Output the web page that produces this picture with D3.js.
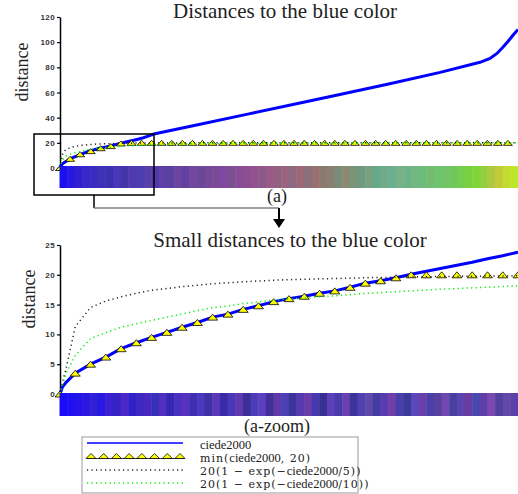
<!DOCTYPE html>
<html>
<head>
<meta charset="utf-8">
<script src="https://cdn.jsdelivr.net/npm/d3@7"></script>
<style>
body { margin: 0; background: #fff; }
</style>
</head>
<body>
<div id="chart"></div>
<script>
//// Data
// rank = position of a colour once all colours are sorted by distance (0..1000)

// Full range, panel (a)
const top_rank  = [0, 1, 2.5, 6, 12, 24, 36, 48, 60, 72, 84, 96, 108, 120, 132, 144, 156, 168, 180,
                   205, 306, 415, 524, 611, 720, 830, 917, 939, 954, 967, 978, 989, 1000]
const top_ciede = [0, 1.2, 2.0, 3.5, 5.0, 7.6, 9.5, 11.2, 12.9, 14.2, 15.5, 16.4, 17.3, 18.6, 19.5, 20.6, 21.6, 22.7, 23.8,
                   27, 34.8, 43.2, 51.6, 58.4, 67, 76, 84, 87, 91, 96, 100.5, 105.5, 110]
const top_exp5  = [0, 2, 4.5, 11.3, 14.5, 16.3, 17.4, 18.0, 18.5, 18.83, 19.1, 19.25, 19.37, 19.51, 19.59, 19.68, 19.73, 19.79, 19.83,
                   19.91, 19.98, 20, 20, 20, 20, 20, 20, 20, 20, 20, 20, 20, 20]
const top_exp10 = [0, 1.5, 3.5, 6.5, 9.3, 11.2, 12.35, 13.4, 14.5, 15.17, 15.76, 16.12, 16.45, 16.89, 17.15, 17.45, 17.7, 17.93, 18.15,
                   18.66, 19.44, 19.74, 19.89, 19.94, 19.98, 20, 20, 20, 20, 20, 20, 20, 20]
const top_min_rank = [0, 22, 44, 67, 89, 111, 133, 156, 178, 200, 222, 244, 267, 289, 311, 333, 356, 378, 400, 422, 444, 467,
                      489, 511, 533, 556, 578, 600, 622, 644, 667, 689, 711, 733, 756, 778, 800, 822, 844, 867, 889, 911, 933, 956, 978]
const top_min = [0, 7.3, 10.9, 13.4, 15.7, 17.4, 19.5, 20, 20, 20, 20, 20, 20, 20, 20, 20, 20, 20, 20, 20, 20, 20,
                 20, 20, 20, 20, 20, 20, 20, 20, 20, 20, 20, 20, 20, 20, 20, 20, 20, 20, 20, 20, 20, 20, 20]

// Zoomed range, panel (a-zoom)
const zoom_rank  = [0, 1, 2.5, 6, 12, 18, 24, 30, 36, 42, 48, 54, 60, 66, 72, 78, 84, 90, 96, 102, 108,
                    114, 120, 126, 132, 138, 144, 150, 156, 162, 168, 174, 180]
const zoom_ciede = [0, 1.2, 2.0, 3.5, 5.0, 6.2, 7.6, 8.6, 9.5, 10.35, 11.2, 12.0, 12.9, 13.4, 14.2, 14.8, 15.5, 16.0, 16.4, 16.9, 17.3,
                    17.9, 18.6, 19.0, 19.5, 20.1, 20.6, 21.1, 21.6, 22.1, 22.7, 23.2, 23.8]
const zoom_exp5  = [0, 2, 4.5, 11.3, 14.5, 15.6, 16.3, 16.9, 17.4, 17.7, 18.0, 18.25, 18.5, 18.65, 18.83, 18.96, 19.1, 19.18, 19.25, 19.32, 19.37,
                    19.44, 19.51, 19.55, 19.59, 19.64, 19.68, 19.71, 19.73, 19.76, 19.79, 19.81, 19.83]
const zoom_exp10 = [0, 1.5, 3.5, 6.5, 9.3, 10.3, 11.2, 11.8, 12.35, 12.9, 13.4, 13.98, 14.5, 14.76, 15.17, 15.45, 15.76, 15.96, 16.12, 16.31, 16.45,
                    16.66, 16.89, 17.01, 17.15, 17.32, 17.45, 17.58, 17.7, 17.81, 17.93, 18.03, 18.15]
const zoom_min_rank = [0, 6, 12, 18, 24, 30, 36, 42, 48, 54, 60, 66, 72, 78, 84, 90, 96, 102, 108, 114, 120,
                       126, 132, 138, 144, 150, 156, 162, 168, 174, 180]
const zoom_min = [0, 3.5, 5.0, 6.2, 7.6, 8.6, 9.5, 10.35, 11.2, 12.0, 12.9, 13.4, 14.2, 14.8, 15.5, 16.0, 16.4, 16.9, 17.3, 17.9, 18.6,
                  19.0, 19.5, 20, 20, 20, 20, 20, 20, 20, 20]

// Colour strips under the curves (sorted colours, left to right)
const top_strip = ["#1a10f0", "#2a18e0", "#3020d0", "#3828c8", "#3a2cc0", "#4030b8", "#3a30b0", "#4838b8", "#4434a8", "#5038b0",
                   "#4c3cb0", "#5840a8", "#5238a8", "#6040a8", "#5a40a0", "#6a44a0", "#6240a0", "#7048a0", "#6a4898", "#784898",
                   "#7a4a98", "#8048a0", "#7a5090", "#8a4c98", "#8a5090", "#945090", "#8c5888", "#9a5a88", "#926080", "#9a6480",
                   "#8e6a80", "#9c6878", "#8a7078", "#987070", "#8a7a70", "#8a8070", "#7c8a78", "#8a8a70", "#7a9478", "#709a80",
                   "#78a080", "#68a88a", "#70aa88", "#6ab090", "#78b088", "#6cb488", "#72b880", "#6cbc7c", "#74bc70", "#6ec470",
                   "#72c468", "#70c85c", "#74cc50", "#78d040", "#80d438", "#90d040", "#b0c840", "#c0cc38", "#c4dc30", "#bce828"]
const zoom_strip = ["#1a0cf8", "#1e10f0", "#2414e8", "#2a18e0", "#3020d8", "#2818e0", "#3a20d0", "#3424c8", "#4a28c8", "#3020c8",
                    "#3c28c0", "#4828c0", "#3830b8", "#5030c0", "#3428b0", "#4a30c0", "#5a30c0", "#3c30b0", "#4c38c0", "#4030a8",
                    "#5a38b8", "#3a2ca8", "#4838b8", "#6038b0", "#3a3098", "#4c3cb8", "#5a40c0", "#403098", "#6038a8", "#4c40b8",
                    "#3c3498", "#5838b0", "#6a3ca8", "#4838b0", "#383090", "#5c40b8", "#4a3ca8", "#6a40b0", "#3c3498", "#5040b0",
                    "#6048a8", "#443ca0", "#5a3cb0", "#7040a8", "#4840a8", "#3c3a98", "#5a48b8", "#6a40a8", "#4a40a8", "#5840a0",
                    "#7048b0", "#4840a0", "#5c44b0", "#6a3ca0", "#4a48b0", "#6040a8", "#7a48b0", "#5040a0", "#6448a8", "#5a40a8"]

const top_ticks = [0, 20, 40, 60, 80, 100, 120]
const zoom_ticks = [0, 5, 10, 15, 20, 25]

const legend_rows = ["ciede2000", "min", "exp5", "exp10"]


//// Constants
const BLUE = "#0000ff"
const DOT_BLACK = "#222222"
const DOT_GREEN = "#00ee00"
const SERIF = "'Liberation Serif', 'Times New Roman', serif"
const MATH = "'DejaVu Serif', serif"

const svg = d3.select("#chart")
    .append("svg")
        .attr("width", 518)
        .attr("height", 494)
        .style("display", "block")
        .style("font-family", SERIF)

function zip(xs, ys) {
    return xs.map(function(d, i) { return [d, ys[i]] })
}

// One panel: axis, curves, markers, colour strip, title
function draw_panel(p) {
    var x = d3.scaleLinear().domain(p.x_domain).range([60, 518])
    var y = d3.scaleLinear().domain(p.y_domain).range(p.y_range)

    var g = svg.append("g")

    // Y axis
    var axis = g.append("g")
        .attr("transform", "translate(60,0)")
        .call(d3.axisLeft(y).tickValues(p.ticks).tickSize(3).tickSizeOuter(0).tickPadding(2))
    axis.select(".domain")
        .attr("stroke", "#000")
        .attr("stroke-width", 1.5)
    axis.selectAll(".tick line")
        .attr("stroke", "#000")
        .attr("stroke-width", 1.2)
    axis.selectAll(".tick text")
        .attr("fill", "#333")
        .style("font-family", "'Liberation Sans', Arial, sans-serif")
        .style("font-weight", "bold")
        .style("font-size", "8px")
        .style("letter-spacing", "0.4px")

    var line = d3.line()
        .x(d => x(d[0]))
        .y(d => y(d[1]))

    // ciede2000
    g.append("path")
        .attr("d", line(zip(p.rank, p.ciede)))
        .attr("fill", "none")
        .attr("stroke", BLUE)
        .attr("stroke-width", 3)

    // min(ciede2000, 20) markers
    var tri = "M" + (-p.tri_w / 2) + "," + (p.tri_h / 2) + "L" + (p.tri_w / 2) + "," + (p.tri_h / 2) + "L0," + (-p.tri_h / 2) + "Z"
    g.append("g")
        .selectAll("path")
            .data(zip(p.min_rank, p.min))
            .enter()
            .append("path")
                .attr("transform", d => "translate(" + x(d[0]) + "," + y(d[1]) + ")")
                .attr("d", tri)
                .attr("fill", "#ffff00")
                .attr("stroke", "#000")
                .attr("stroke-width", 0.8)

    // 20(1 - exp(-ciede2000/5)) and 20(1 - exp(-ciede2000/10))
    g.append("path")
        .attr("d", line(zip(p.rank, p.exp5)))
        .attr("fill", "none")
        .attr("stroke", DOT_BLACK)
        .attr("stroke-width", 1.5)
        .attr("stroke-dasharray", "1.2,3.3")
    g.append("path")
        .attr("d", line(zip(p.rank, p.exp10)))
        .attr("fill", "none")
        .attr("stroke", DOT_GREEN)
        .attr("stroke-width", 1.5)
        .attr("stroke-dasharray", "1.2,3.3")

    // Colour strip
    var band = d3.scaleBand()
        .domain(d3.range(p.strip.length))
        .range([59.5, 518])
    g.append("g")
        .selectAll("rect")
            .data(p.strip)
            .enter()
            .append("rect")
                .attr("x", (d, i) => band(i))
                .attr("y", p.strip_y[0])
                .attr("width", band.bandwidth() + 0.5)
                .attr("height", p.strip_y[1] - p.strip_y[0])
                .attr("fill", d => d)

    // Title, y label, caption
    g.append("text")
        .attr("x", p.title_x)
        .attr("y", p.title_y)
        .attr("text-anchor", "middle")
        .attr("fill", "#222")
        .style("font-size", "21px")
        .text(p.title)
    g.append("text")
        .attr("transform", "translate(" + p.ylab_x + "," + p.ylab_y + ") rotate(-90)")
        .attr("text-anchor", "middle")
        .attr("fill", "#222")
        .style("font-size", "18px")
        .text("distance")
    g.append("text")
        .attr("x", 277)
        .attr("y", p.caption_y)
        .attr("text-anchor", "middle")
        .attr("fill", "#222")
        .style("font-size", "18px")
        .text(p.caption)
}

draw_panel({
    x_domain: [0, 1000], y_domain: [0, 120], y_range: [168, 17], ticks: top_ticks,
    rank: top_rank, ciede: top_ciede, exp5: top_exp5, exp10: top_exp10,
    min_rank: top_min_rank, min: top_min, tri_w: 9, tri_h: 5,
    strip: top_strip, strip_y: [166, 188],
    title: "Distances to the blue color", title_x: 285, title_y: 18,
    ylab_x: 28, ylab_y: 72, caption: "(a)", caption_y: 202
})

draw_panel({
    x_domain: [0, 180], y_domain: [0, 25], y_range: [394, 245], ticks: zoom_ticks,
    rank: zoom_rank, ciede: zoom_ciede, exp5: zoom_exp5, exp10: zoom_exp10,
    min_rank: zoom_min_rank, min: zoom_min, tri_w: 10, tri_h: 6,
    strip: zoom_strip, strip_y: [393, 416],
    title: "Small distances to the blue color", title_x: 290, title_y: 247,
    ylab_x: 35, ylab_y: 299, caption: "(a-zoom)", caption_y: 432
})


//// Zoom box and the arrow to the lower panel
svg.append("rect")
    .attr("x", 34).attr("y", 134)
    .attr("width", 120).attr("height", 61)
    .attr("fill", "none")
    .attr("stroke", "#000")
    .attr("stroke-width", 1.5)
svg.append("path")
    .attr("d", "M94,195V208")
    .attr("stroke", "#000")
    .attr("stroke-width", 1.5)
svg.append("path")
    .attr("d", "M94,208H279")
    .attr("stroke", "#808080")
    .attr("stroke-width", 1.5)
svg.append("path")
    .attr("d", "M279,208V221")
    .attr("stroke", "#000")
    .attr("stroke-width", 2)
svg.append("path")
    .attr("d", "M273,219L285,219L279,228Z")
    .attr("fill", "#000")


//// Legend
var legend = svg.append("g")
legend.append("rect")
    .attr("x", 82).attr("y", 437)
    .attr("width", 276).attr("height", 56)
    .attr("fill", "#fff")
    .attr("stroke", "#999")
    .attr("stroke-width", 1)

const legend_y = {ciede2000: 443, min: 456, exp5: 470, exp10: 483}
const text_y = {ciede2000: 449, min: 462, exp5: 475, exp10: 488}

legend.append("path")
    .attr("d", "M87," + legend_y.ciede2000 + "H183")
    .attr("stroke", BLUE)
    .attr("stroke-width", 1.5)

var leg_x = d3.scaleLinear().domain([0, 7]).range([91, 180])
legend.append("path")
    .attr("d", "M87," + (legend_y.min + 2.5) + "H184")
    .attr("stroke", "#000")
    .attr("stroke-width", 0.8)
legend.append("g")
    .selectAll("path")
        .data(d3.range(8))
        .enter()
        .append("path")
            .attr("transform", d => "translate(" + leg_x(d) + "," + legend_y.min + ")")
            .attr("d", "M-5,2.5L5,2.5L0,-2.5Z")
            .attr("fill", "#ffff00")
            .attr("stroke", "#000")
            .attr("stroke-width", 0.8)

legend.append("path")
    .attr("d", "M87," + legend_y.exp5 + "H183")
    .attr("stroke", DOT_BLACK)
    .attr("stroke-width", 1.5)
    .attr("stroke-dasharray", "1.2,3.3")
legend.append("path")
    .attr("d", "M87," + legend_y.exp10 + "H183")
    .attr("stroke", DOT_GREEN)
    .attr("stroke-width", 1.5)
    .attr("stroke-dasharray", "1.2,3.3")

// Legend texts, a math font for the operators and Times for the name
const legend_parts = {
    ciede2000: [["ciede2000", SERIF]],
    min: [["min(", MATH], ["ciede2000", SERIF], [", 20)", MATH]],
    exp5: [["20(1 \u2212 exp(\u2212", MATH], ["ciede2000", SERIF], ["/5))", MATH]],
    exp10: [["20(1 \u2212 exp(\u2212", MATH], ["ciede2000", SERIF], ["/10))", MATH]]
}
legend_rows.forEach(function(key) {
    var t = legend.append("text")
        .attr("x", 200)
        .attr("y", text_y[key])
        .attr("fill", "#222")
    legend_parts[key].forEach(function(part) {
        t.append("tspan")
            .style("font-family", part[1])
            .style("font-size", part[1] === MATH ? "11px" : "12.5px")
            .style("letter-spacing", part[1] === MATH ? "1px" : null)
            .text(part[0])
    })
})
</script>
</body>
</html>
